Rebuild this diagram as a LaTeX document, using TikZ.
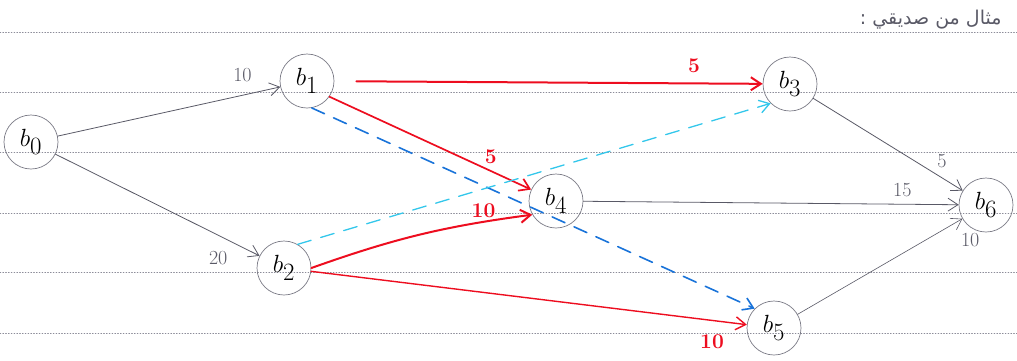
\documentclass[tikz,border=0pt]{standalone}
\usepackage{fontspec}
\usetikzlibrary{arrows.meta,positioning}
\newfontfamily\arabicfont[Script=Arabic]{DejaVu Sans}
\TeXXeTstate=1
\definecolor{rulegray}{rgb}{0.55,0.55,0.6}
\definecolor{inkgray}{rgb}{0.35,0.35,0.4}
\definecolor{penred}{rgb}{0.93,0.05,0.12}
\definecolor{penblue}{rgb}{0.1,0.45,0.85}
\definecolor{pencyan}{rgb}{0.2,0.78,0.92}

\begin{document}
\begin{tikzpicture}[x=1pt,y=-1pt,line cap=round,line join=round,
    >={Straight Barb[length=10pt,width=13pt]},
    vertex/.style={circle,draw=inkgray!80,line width=0.7pt,minimum size=54pt,inner sep=0pt,font=\fontsize{34}{34}\selectfont},
    plainarc/.style={->,draw=inkgray,line width=0.8pt},
    critarc/.style={->,draw=penred,line width=2pt},
    bluedash/.style={->,draw=penblue,line width=1.6pt,dash pattern=on 14pt off 10pt},
    cyandash/.style={->,draw=pencyan,line width=1.3pt,dash pattern=on 14pt off 10pt},
    lab/.style={font=\fontsize{20}{20}\selectfont,text=inkgray},
    redlab/.style={font=\bfseries\fontsize{21}{21}\selectfont,text=penred}]
    \useasboundingbox (0,0) rectangle (1017,360);
    % ruled paper
    \foreach \yy in {32,92,152,213,272,333}
        \draw [rulegray,dotted,line width=0.8pt] (0,\yy) -- (1017,\yy);
    \node [anchor=east,font=\fontsize{19}{19}\selectfont,text=inkgray] (title) at (1005,20) {\arabicfont\beginR مثال من صديقي :\endR};
    % vertices
    \node [vertex] (b0) at (31,142) {$b_0$};
    \node [vertex] (b1) at (307,81) {$b_1$};
    \node [vertex] (b2) at (284,268) {$b_2$};
    \node [vertex] (b3) at (790,84) {$b_3$};
    \node [vertex] (b4) at (556,201) {$b_4$};
    \node [vertex] (b5) at (774,328) {$b_5$};
    \node [vertex] (b6) at (986,205) {$b_6$};
    % arcs
    \draw [plainarc] (b0) -- (b1) node [lab,pos=0.83,above=10pt] {10};
    \draw [plainarc] (b0) -- (b2) node [lab,pos=0.9,below left=2pt and 8pt] {20};
    \draw [critarc,shorten <=22pt] (b1) -- (b3) node [redlab,pos=0.84,above=6pt] {5};
    \draw [critarc,line width=1.7pt] (b1.-35) -- (b4) node [redlab,pos=0.8,above=3pt] {5};
    \draw [bluedash] (b1.-80) -- (b5.135);
    \draw [cyandash] (b2.60) -- (b3.-135);
    \draw [critarc] (b2.east) to [bend left=6] node [redlab,pos=0.8,above=0pt] {10} (b4.-150);
    \draw [critarc,line width=1.4pt] (b2) -- (b5) node [redlab,pos=0.92,below=10pt] {10};
    \draw [plainarc] (b3) -- (b6) node [lab,pos=0.8,above right=1pt] {5};
    \draw [plainarc] (b4) -- (b6) node [lab,pos=0.85,above=4pt] {15};
    \draw [plainarc,line width=0.6pt] (b5) -- (b6) node [lab,pos=0.97,below right=8pt and 0pt] {10};
\end{tikzpicture}
\end{document}
